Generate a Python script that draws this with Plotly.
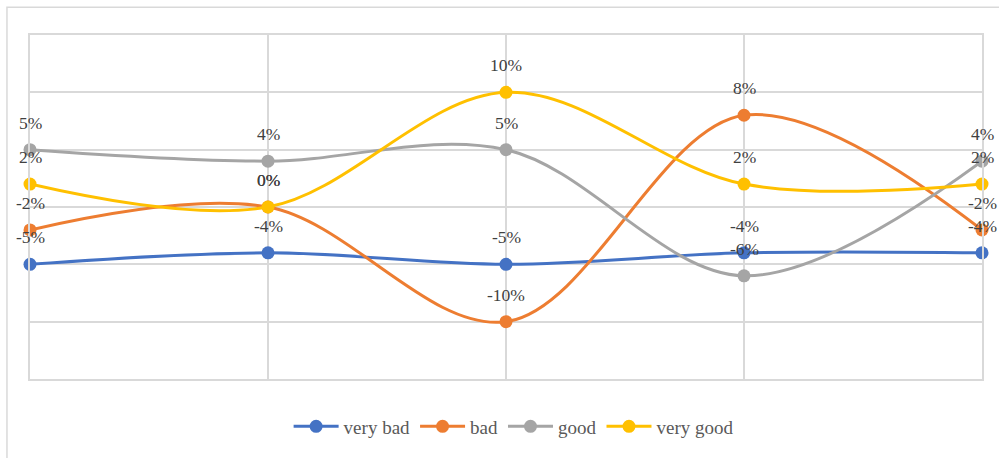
import plotly.graph_objects as go

# Survey stages (five evaluation points, no axis labels shown)
stages = [0, 1, 2, 3, 4]

# Change in share of answers per rating (percent)
series_names = ["very bad", "bad", "good", "very good"]
very_bad = [-5, -4, -5, -4, -4]
bad = [-2, 0, -10, 8, -2]
good = [5, 4, 5, -6, 4]
very_good = [2, 0, 10, 2, 2]

colors = ["#4472C4", "#ED7D31", "#A5A5A5", "#FFC000"]
values = [very_bad, bad, good, very_good]

SERIF = "Liberation Serif, Times New Roman, serif"

fig = go.Figure()
for name, vals, col in zip(series_names, values, colors):
    fig.add_trace(go.Scatter(
        x=stages, y=vals, name=name, mode="lines+markers",
        line=dict(color=col, width=3, shape="spline", smoothing=1.0),
        marker=dict(color=col, size=13),
        cliponaxis=False,
    ))

# Data labels above each point
annotations = []
for vals in values:
    for xv, yv in zip(stages, vals):
        annotations.append(dict(
            x=xv, y=yv, xref="x", yref="y", text=f"{yv}%",
            showarrow=False, yshift=27,
            font=dict(family=SERIF, size=17.5, color="#404040"),
        ))

# Light outer frame around the chart
shapes = [dict(
    type="rect", xref="paper", yref="paper",
    x0=-0.0242, x1=1.06, y0=-0.3, y1=1.0805,
    line=dict(color="#d9d9d9", width=1.5), fillcolor="rgba(0,0,0,0)", layer="below",
)]

axis_common = dict(
    showticklabels=False, ticks="", zeroline=False,
    showgrid=True, gridcolor="#d9d9d9", gridwidth=1.5,
    showline=True, linecolor="#d9d9d9", linewidth=1.5, mirror=True,
)

fig.update_layout(
    width=999, height=458,
    margin=dict(l=30, r=17, t=35, b=76),
    paper_bgcolor="white", plot_bgcolor="white",
    font=dict(family=SERIF, color="#595959"),
    showlegend=True,
    legend=dict(
        orientation="h", x=0.508, xanchor="center", y=-0.138, yanchor="middle",
        font=dict(family=SERIF, size=19, color="#595959"),
        itemwidth=45,
    ),
    annotations=annotations,
    shapes=shapes,
    xaxis=dict(range=[0, 4], dtick=1, **axis_common),
    yaxis=dict(range=[-15, 15], dtick=5, **axis_common),
)

fig.write_html("out.html")
